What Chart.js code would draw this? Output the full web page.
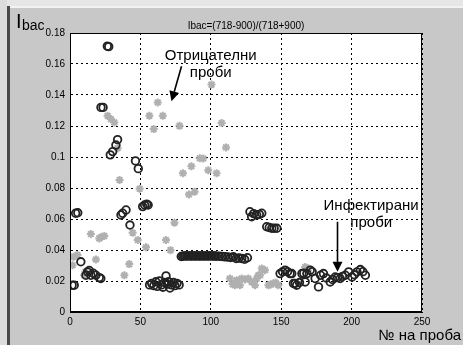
<!DOCTYPE html>
<html>
<head>
<meta charset="utf-8">
<script src="https://cdn.jsdelivr.net/npm/chart.js@4.4.1/dist/chart.umd.min.js"></script>
<style>
  html,body{margin:0;padding:0;background:#c8c8c8;}
  #wrap{width:463px;height:345px;position:relative;}
</style>
</head>
<body>
<div id="wrap"><canvas id="c" width="463" height="345"></canvas></div>
<script>
// ---- data ----
const xTicks = [0, 50, 100, 150, 200, 250];
const yTicks = [0, 0.02, 0.04, 0.06, 0.08, 0.1, 0.12, 0.14, 0.16, 0.18];

// infected samples (black open circles)
const circleX = [1.5, 3, 4, 5.5, 7.7, 11.3, 12.5, 13.7, 14.8, 16.5, 18.4, 20.8, 21.9, 22, 23.5, 26.5, 27.5,
  28.6, 30.3, 32.6, 33.8, 36.2, 37.4, 39.8, 42.6, 46.5, 48.5, 51.6, 53, 54.5, 55.5,
  56.5, 58, 59.5, 61, 62, 63.5, 65, 66, 67, 68.2, 69, 70, 71, 72, 73.5, 74.5, 76, 77.5,
  79, 80, 81, 82, 83, 84, 85, 86, 87, 88, 89, 90, 91, 92, 93, 94, 95, 96, 97, 98, 99, 100, 101, 102, 103, 104,
  106, 108, 110, 112, 114, 116, 118, 120, 122, 124, 126,
  127.8, 129, 130.5, 132.6, 134.5, 136.2, 139.7, 141.5, 143.3, 145, 146.9,
  149.2, 151, 152.8, 154.5, 156.3, 157.5, 158.7, 159.9, 161, 163, 164.7, 166, 167, 168.2, 170.6, 172, 174.1, 176.5,
  178, 180, 182, 184.8, 186.5, 188.4, 190, 191.9, 193.5, 195.5, 197.9, 200.3, 202, 203.8, 206.2, 208, 209.8];
const circleY = [0.0173, 0.0173, 0.0637, 0.064, 0.0324, 0.0237, 0.0259, 0.0268, 0.0237, 0.025, 0.0237, 0.0222, 0.0216, 0.132, 0.132, 0.1715, 0.1712,
  0.1014, 0.1035, 0.1077, 0.1112, 0.0626, 0.0637, 0.0658, 0.0561, 0.0975, 0.0925, 0.068, 0.069, 0.0695, 0.069,
  0.0175, 0.0185, 0.017, 0.0195, 0.0165, 0.02, 0.0175, 0.016, 0.019, 0.0233, 0.018, 0.0195, 0.0155, 0.0175, 0.019, 0.017, 0.0185, 0.0175,
  0.0358, 0.036, 0.0362, 0.0362, 0.0361, 0.0362, 0.0362, 0.0361, 0.0362, 0.0362, 0.0361, 0.0362, 0.0362, 0.0361, 0.0362, 0.0362, 0.0361, 0.0362, 0.0362, 0.0361, 0.0362, 0.0362, 0.0361, 0.0362, 0.0361, 0.036,
  0.036, 0.0358, 0.0356, 0.0355, 0.0352, 0.0356, 0.0345, 0.0348, 0.0345, 0.034, 0.035,
  0.0647, 0.0615, 0.0635, 0.0626, 0.063, 0.0637, 0.055, 0.0545, 0.054, 0.054, 0.054,
  0.0248, 0.026, 0.027, 0.026, 0.0248, 0.0248, 0.0184, 0.0184, 0.0173, 0.019, 0.0248, 0.025, 0.0194, 0.0248, 0.027, 0.026, 0.0216, 0.0162,
  0.0237, 0.0248, 0.022, 0.0194, 0.021, 0.0226, 0.0222, 0.0216, 0.023, 0.0237, 0.0259, 0.0226, 0.024, 0.0259, 0.0274, 0.026, 0.0237];

// negative samples (grey asterisks)
const starX = [1.8, 2.5, 5.3, 10.1, 11, 14.8, 18.4, 20.8, 22.5, 24.4, 26.7, 29, 31.5, 33.8, 35.2, 38.6, 42.1, 44.5, 48.1, 49.5,
  54, 56.4, 59.5, 62.3, 65.9, 68.2, 71.4, 74.2, 77.8, 80.2, 84.5, 86.2, 88.5, 92.2, 94.6, 98.2, 100.5, 104.1, 107.7, 110.8,
  113.6, 115.5, 117.1, 118.4, 120.7, 121.9, 124.3, 126.6, 129, 131.4, 132.6, 133.8, 135, 136.2, 138.5, 140.9, 142.5, 144.4, 146, 148, 167, 169.4];
const starY = [0.0302, 0.0356, 0.0367, 0.0237, 0.026, 0.0503, 0.0339, 0.0475, 0.0485, 0.049, 0.1266, 0.1245, 0.1223, 0.1057, 0.0852, 0.0237, 0.0309, 0.0511, 0.0464, 0.0795,
  0.0417, 0.1266, 0.118, 0.1352, 0.1266, 0.0464, 0.0399, 0.0576, 0.1201, 0.0895, 0.0758, 0.094, 0.0776, 0.0992, 0.099, 0.0915, 0.1467, 0.0895, 0.1219, 0.1062,
  0.0216, 0.018, 0.0173, 0.0205, 0.0173, 0.0216, 0.021, 0.0216, 0.0194, 0.0173, 0.0216, 0.0237, 0.0237, 0.0281, 0.027, 0.0173, 0.0178, 0.0184, 0.019, 0.0173, 0.029, 0.028];

const titleText = 'Ibac=(718-900)/(718+900)';
const xLabel = '№ на проба';
const negLabel = ['Отрицателни', 'проби'];
const infLabel = ['Инфектирани', 'проби'];
// annotation anchors in data units
const negArrow = {from: [79.2, 0.1585], to: [72.1, 0.1359]};
const infArrow = {from: [189.6, 0.0582], to: [189.6, 0.0259]};
const negText = [[67.3, 0.1628], [85.1, 0.1518]];
const infText = [[180.1, 0.0658], [199.1, 0.0551]];

const FONT = '"Liberation Sans", Arial, Helvetica, sans-serif';
const toPts = (xs, ys) => xs.map((x, i) => ({x: x, y: ys[i]}));

function arrow(ctx, x1, y1, x2, y2) {
  const ang = Math.atan2(y2 - y1, x2 - x1);
  const L = 10, W = 5;
  const bx = x2 - L * Math.cos(ang), by = y2 - L * Math.sin(ang);
  ctx.beginPath(); ctx.moveTo(x1, y1); ctx.lineTo(bx, by);
  ctx.lineWidth = 1.6; ctx.strokeStyle = '#000'; ctx.stroke();
  ctx.beginPath();
  ctx.moveTo(x2, y2);
  ctx.lineTo(bx + W * Math.sin(ang), by - W * Math.cos(ang));
  ctx.lineTo(bx - W * Math.sin(ang), by + W * Math.cos(ang));
  ctx.closePath(); ctx.fillStyle = '#000'; ctx.fill();
}

const deco = {
  id: 'deco',
  beforeDraw(chart) {
    const {ctx, chartArea: a} = chart;
    ctx.save();
    ctx.fillStyle = '#c8c8c8'; ctx.fillRect(0, 0, chart.width, chart.height);
    ctx.fillStyle = '#e6e6e6'; ctx.fillRect(0, 0, chart.width, 6);
    ctx.fillStyle = '#f2f2f2'; ctx.fillRect(10, 6, chart.width - 10, 2);
    ctx.fillStyle = '#dcdcdc'; ctx.fillRect(0, 0, 7, chart.height);
    ctx.fillStyle = '#4a4a4a'; ctx.fillRect(7, 6, 3, chart.height - 6);
    ctx.fillStyle = '#ffffff'; ctx.fillRect(a.left, a.top, a.right - a.left, a.bottom - a.top);
    ctx.restore();
  },
  afterDraw(chart) {
    const {ctx, chartArea: a, scales: {x, y}} = chart;
    ctx.save();
    ctx.strokeStyle = '#000'; ctx.lineWidth = 1;
    ctx.strokeRect(a.left + 0.5, a.top + 0.5, a.right - a.left - 1, a.bottom - a.top - 1);
    ctx.fillStyle = '#000';
    ctx.textBaseline = 'alphabetic';
    // title
    ctx.font = '10px ' + FONT; ctx.textAlign = 'center';
    ctx.fillText(titleText, (a.left + a.right) / 2, 29);
    // y label I_bac
    ctx.textAlign = 'left';
    ctx.font = '20px ' + FONT; ctx.fillText('I', 16, 28);
    ctx.font = '14px ' + FONT; ctx.fillText('bac', 22, 30);
    // x label
    ctx.textAlign = 'right'; ctx.font = '15px ' + FONT;
    ctx.fillText(xLabel, 461, 340);
    // annotations
    ctx.textAlign = 'left'; ctx.font = '15px ' + FONT;
    negLabel.forEach((t, i) => ctx.fillText(t, x.getPixelForValue(negText[i][0]), y.getPixelForValue(negText[i][1])));
    infLabel.forEach((t, i) => ctx.fillText(t, x.getPixelForValue(infText[i][0]), y.getPixelForValue(infText[i][1])));
    arrow(ctx, x.getPixelForValue(negArrow.from[0]), y.getPixelForValue(negArrow.from[1]),
               x.getPixelForValue(negArrow.to[0]), y.getPixelForValue(negArrow.to[1]));
    arrow(ctx, Math.round(x.getPixelForValue(infArrow.from[0])) + 0.5, y.getPixelForValue(infArrow.from[1]),
               Math.round(x.getPixelForValue(infArrow.to[0])) + 0.5, y.getPixelForValue(infArrow.to[1]));
    ctx.restore();
  }
};

new Chart(document.getElementById('c'), {
  type: 'scatter',
  data: {
    datasets: [
      {label: 'infected', data: toPts(circleX, circleY), pointStyle: 'circle', pointRadius: 3.8,
       borderColor: '#222222', borderWidth: 1.8, backgroundColor: 'rgba(255,255,255,0)'},
      {label: 'negative', data: toPts(starX, starY), pointStyle: 'star', pointRadius: 4,
       borderColor: '#b0b0b0', borderWidth: 2, backgroundColor: '#b0b0b0'}
    ]
  },
  options: {
    responsive: false, animation: false, devicePixelRatio: 1,
    layout: {padding: {left: 0, right: 41, top: 33, bottom: 0}},
    plugins: {legend: {display: false}, tooltip: {enabled: false}},
    scales: {
      x: {
        type: 'linear', min: 0, max: 250,
        afterBuildTicks: s => { s.ticks = xTicks.map(v => ({value: v})); },
        afterFit: s => { s.height = 33; },
        grid: {color: '#000', lineWidth: 1, drawTicks: false},
        border: {color: '#000', dash: [2, 3]},
        ticks: {color: '#000', font: {family: FONT, size: 10}, padding: 4, maxRotation: 0,
                callback: v => String(v)}
      },
      y: {
        type: 'linear', min: 0, max: 0.18,
        afterBuildTicks: s => { s.ticks = yTicks.map(v => ({value: v})); },
        afterFit: s => { s.width = 70; },
        grid: {color: '#000', lineWidth: 1, drawTicks: false},
        border: {color: '#000', dash: [2, 3]},
        ticks: {color: '#000', font: {family: FONT, size: 10}, padding: 5,
                callback: v => String(+(+v).toFixed(2))}
      }
    }
  },
  plugins: [deco]
});
</script>
</body>
</html>
